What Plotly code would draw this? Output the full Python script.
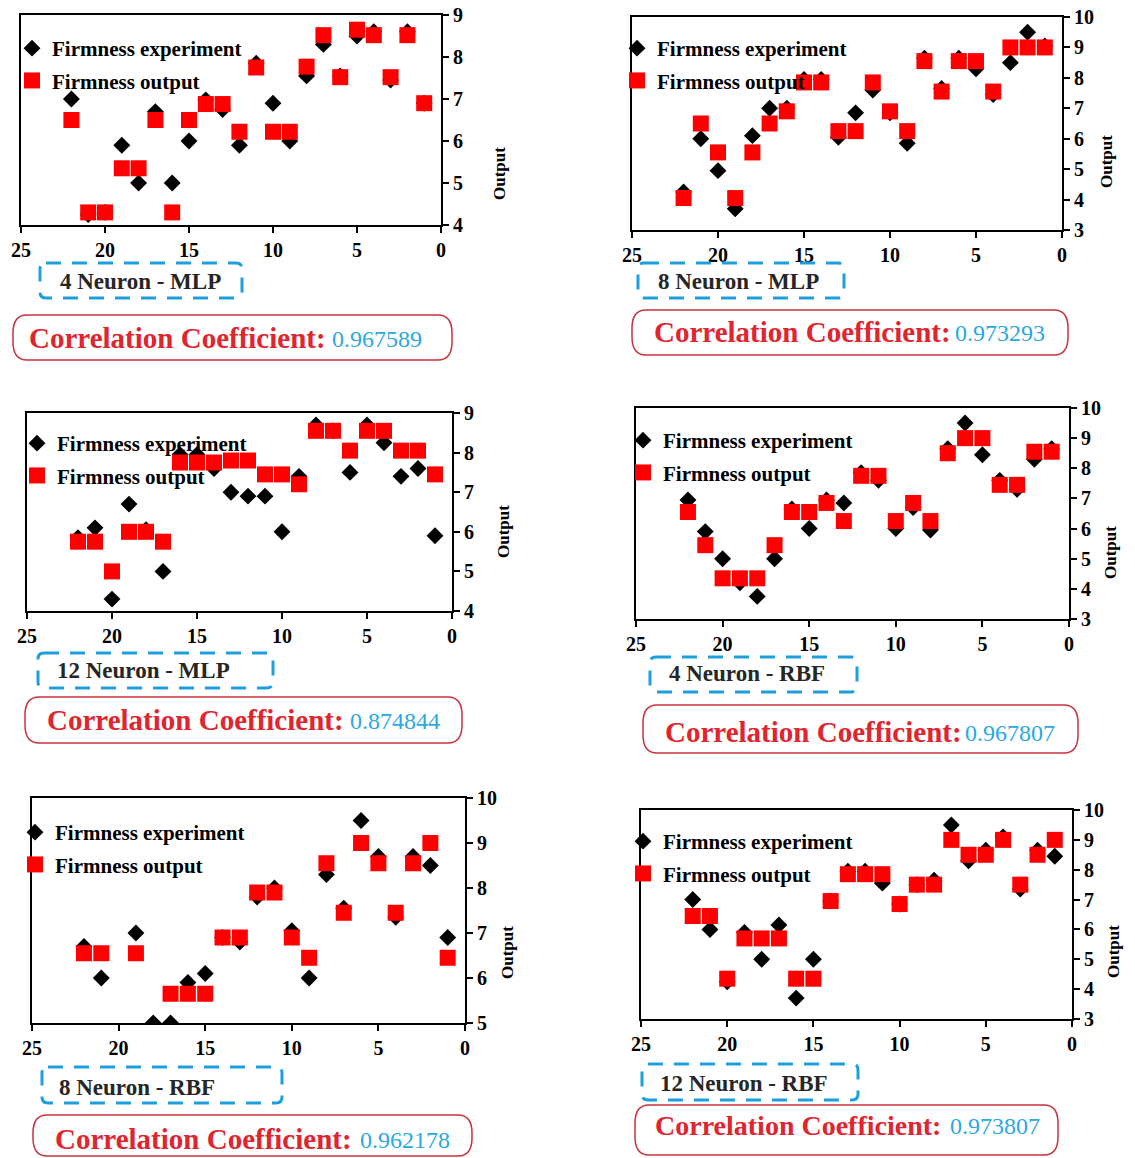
import plotly.graph_objects as go

W, H = 1135, 1158

# ---------------- data (sample index 22 -> 1) ----------------
sample_no = list(range(22, 0, -1))

mlp4_exp = [7.0, 4.25, 4.3, 5.9, 5.0, 6.7, 5.0, 6.0, 6.98, 6.75, 5.9, 7.85, 6.9, 6.0, 7.55, 8.3, 7.55, 8.5, 8.6, 7.45, 8.6, 6.9]
mlp4_out = [6.5, 4.3, 4.3, 5.35, 5.35, 6.5, 4.3, 6.5, 6.88, 6.88, 6.22, 7.75, 6.22, 6.22, 7.77, 8.52, 7.52, 8.65, 8.52, 7.52, 8.52, 6.9]

mlp8_exp = [4.25, 6.0, 4.95, 3.7, 6.1, 7.0, 7.0, 7.95, 7.95, 6.05, 6.85, 7.6, 6.85, 5.85, 8.65, 7.65, 8.65, 8.3, 7.45, 8.5, 9.5, 9.05]
mlp8_out = [4.05, 6.5, 5.55, 4.05, 5.55, 6.5, 6.9, 7.85, 7.85, 6.25, 6.25, 7.85, 6.9, 6.25, 8.55, 7.55, 8.55, 8.55, 7.55, 9.0, 9.0, 9.0]

mlp12_exp = [5.85, 6.1, 4.3, 6.7, 6.05, 5.0, 7.95, 7.95, 7.6, 7.0, 6.9, 6.9, 6.0, 7.4, 8.7, 8.55, 7.5, 8.7, 8.25, 7.4, 7.6, 5.9]
mlp12_out = [5.75, 5.75, 5.0, 6.0, 6.0, 5.75, 7.75, 7.75, 7.75, 7.8, 7.8, 7.45, 7.45, 7.2, 8.55, 8.55, 8.05, 8.55, 8.55, 8.05, 8.05, 7.45]

rbf4_exp = [6.95, 5.9, 5.0, 4.2, 3.75, 5.0, 6.65, 6.0, 6.95, 6.85, 7.85, 7.6, 6.0, 6.7, 5.95, 8.65, 9.5, 8.45, 7.6, 7.3, 8.3, 8.65]
rbf4_out = [6.55, 5.45, 4.35, 4.35, 4.35, 5.45, 6.55, 6.55, 6.85, 6.25, 7.75, 7.75, 6.25, 6.85, 6.25, 8.5, 9.0, 9.0, 7.45, 7.45, 8.55, 8.55]

rbf8_exp = [6.7, 6.0, None, 7.0, 5.0, 5.0, 5.9, 6.1, 6.9, 6.8, 7.8, 8.0, 7.05, 6.0, 8.3, 7.55, 9.5, 8.7, 7.35, 8.7, 8.5, 6.9]
rbf8_out = [6.55, 6.55, None, 6.55, None, 5.65, 5.65, 5.65, 6.9, 6.9, 7.9, 7.9, 6.9, 6.45, 8.55, 7.45, 9.0, 8.55, 7.45, 8.55, 9.0, 6.45]

rbf12_exp = [7.0, 6.0, 4.25, 5.9, 5.0, 6.15, 3.7, 5.0, 6.95, 7.95, 7.95, 7.55, 6.85, 7.5, 7.65, 9.5, 8.3, 8.65, 9.1, 7.35, 8.65, 8.45]
rbf12_out = [6.45, 6.45, 4.35, 5.7, 5.7, 5.7, 4.35, 4.35, 6.95, 7.85, 7.85, 7.85, 6.85, 7.5, 7.5, 9.0, 8.5, 8.5, 9.0, 7.5, 8.5, 9.0]

model_names = ["4 Neuron - MLP", "8 Neuron - MLP", "12 Neuron - MLP",
               "4 Neuron - RBF", "8 Neuron - RBF", "12 Neuron - RBF"]
corr_values = ["0.967589", "0.973293", "0.874844", "0.967807", "0.962178", "0.973807"]
exp_series = [mlp4_exp, mlp8_exp, mlp12_exp, rbf4_exp, rbf8_exp, rbf12_exp]
out_series = [mlp4_out, mlp8_out, mlp12_out, rbf4_out, rbf8_out, rbf12_out]
y_ranges = [[4, 9], [3, 10], [4, 9], [3, 10], [5, 10], [3, 10]]
x_ticks = [0, 5, 10, 15, 20, 25]

# ---------------- layout geometry (pixels) ----------------
plot_boxes = [(21, 15, 441, 225), (632, 17, 1062, 230), (27, 413, 452, 611),
              (636, 408, 1069, 619), (32, 798, 465, 1023), (641, 810, 1072, 1019)]
output_pos = [(500, 174), (1106, 162), (503, 532), (1110, 553), (507, 953), (1113, 952)]
legend_pos = [(12, 28), (617, 28), (17, 423), (623, 420), (15, 812), (623, 821)]
name_box = [(40, 263, 242, 298), (638, 263, 844, 298), (38, 653, 273, 688),
            (650, 657, 857, 692), (42, 1067, 282, 1103), (642, 1064, 858, 1100)]
name_text = [(140, 281), (738, 281), (143, 670), (747, 673), (137, 1087), (744, 1083)]
corr_box = [(13, 315, 452, 360), (632, 310, 1068, 355), (25, 697, 462, 743),
            (643, 705, 1078, 753), (33, 1115, 472, 1156), (635, 1105, 1058, 1155)]
corr_text = [(27, 338, 330), (652, 332, 953), (45, 720, 348),
             (663, 732, 963), (53, 1139, 358), (653, 1125, 948)]
corr_font = [29, 29, 29, 29, 29, 28]

SERIF = "Liberation Serif, Times New Roman, serif"
RED_TXT = "#E0252F"
BLUE_TXT = "#29A9E0"
DASH_BLUE = "#1E9FDB"
BOX_RED = "#C8323C"


def fx(x):
    return x / W


def fy(y):
    return 1 - y / H


def rrect(x0, y0, x1, y1, rx, ry):
    pts = [
        ("M", [(x0 + rx, y0)]), ("L", [(x1 - rx, y0)]), ("Q", [(x1, y0), (x1, y0 + ry)]),
        ("L", [(x1, y1 - ry)]), ("Q", [(x1, y1), (x1 - rx, y1)]), ("L", [(x0 + rx, y1)]),
        ("Q", [(x0, y1), (x0, y1 - ry)]), ("L", [(x0, y0 + ry)]), ("Q", [(x0, y0), (x0 + rx, y0)]),
    ]
    s = ""
    for cmd, ps in pts:
        s += cmd + " " + " ".join(f"{fx(a):.5f},{fy(b):.5f}" for a, b in ps) + " "
    return s + "Z"


fig = go.Figure()
shapes = []
annotations = []

for i in range(6):
    sfx = "" if i == 0 else str(i + 1)
    xa, ya = "x" + sfx, "y" + sfx
    leg = "legend" + sfx
    fig.add_trace(go.Scatter(
        x=sample_no, y=exp_series[i], mode="markers", name="Firmness experiment",
        marker=dict(symbol="diamond", size=13, color="black"),
        xaxis=xa, yaxis=ya, legend=leg, legendgroup="exp" + sfx))
    fig.add_trace(go.Scatter(
        x=sample_no, y=out_series[i], mode="markers", name="Firmness output",
        marker=dict(symbol="square", size=16, color="#FF0000"),
        xaxis=xa, yaxis=ya, legend=leg, legendgroup="out" + sfx))

    l, t, r, b = plot_boxes[i]
    axis_common = dict(showline=True, linecolor="black", linewidth=2, mirror=True,
                       ticks="outside", ticklen=6, tickwidth=2, tickcolor="black",
                       showgrid=False, zeroline=False, automargin=False,
                       tickfont=dict(family=SERIF, size=20, color="black", weight="bold"))
    fig.layout["xaxis" + sfx] = dict(domain=[fx(l), fx(r)], anchor=ya, range=[25, 0],
                                     tickvals=x_ticks, **axis_common)
    fig.layout["yaxis" + sfx] = dict(domain=[fy(b), fy(t)], anchor=xa, side="right",
                                     range=y_ranges[i], dtick=1, **axis_common)

    lx, ly = legend_pos[i]
    fig.layout[leg] = dict(x=fx(lx), y=fy(ly), xanchor="left", yanchor="top",
                           bgcolor="rgba(0,0,0,0)", borderwidth=0, tracegroupgap=2,
                           itemwidth=30, traceorder="grouped",
                           font=dict(family=SERIF, size=21, color="black", weight="bold"))

    ox, oy = output_pos[i]
    annotations.append(dict(x=fx(ox), y=fy(oy), xref="paper", yref="paper", text="Output",
                            textangle=-90, showarrow=False, xanchor="center", yanchor="middle",
                            font=dict(family=SERIF, size=17, color="black", weight="bold")))

    x0, y0, x1, y1 = name_box[i]
    shapes.append(dict(type="path", xref="paper", yref="paper", path=rrect(x0, y0, x1, y1, 6, 6),
                       line=dict(color=DASH_BLUE, width=3, dash="15px,11px")))
    nx, ny = name_text[i]
    annotations.append(dict(x=fx(nx), y=fy(ny), xref="paper", yref="paper", text=model_names[i],
                            showarrow=False, xanchor="center", yanchor="middle",
                            font=dict(family=SERIF, size=23, color="#262626", weight="bold")))

    x0, y0, x1, y1 = corr_box[i]
    shapes.append(dict(type="path", xref="paper", yref="paper", path=rrect(x0, y0, x1, y1, 14, 18),
                       line=dict(color=BOX_RED, width=1.5)))
    cx, cy, vx = corr_text[i]
    annotations.append(dict(x=fx(cx), y=fy(cy), xref="paper", yref="paper",
                            text="Correlation Coefficient:", showarrow=False,
                            xanchor="left", yanchor="middle",
                            font=dict(family=SERIF, size=corr_font[i], color=RED_TXT, weight="bold")))
    annotations.append(dict(x=fx(vx), y=fy(cy + 1), xref="paper", yref="paper",
                            text=corr_values[i], showarrow=False,
                            xanchor="left", yanchor="middle",
                            font=dict(family=SERIF, size=24, color=BLUE_TXT)))

fig.update_layout(width=W, height=H, margin=dict(l=0, r=0, t=0, b=0),
                  paper_bgcolor="white", plot_bgcolor="white",
                  shapes=shapes, annotations=annotations)

fig.write_html("out.html", config={"displayModeBar": False},
               post_script="document.body.style.margin='0';")
